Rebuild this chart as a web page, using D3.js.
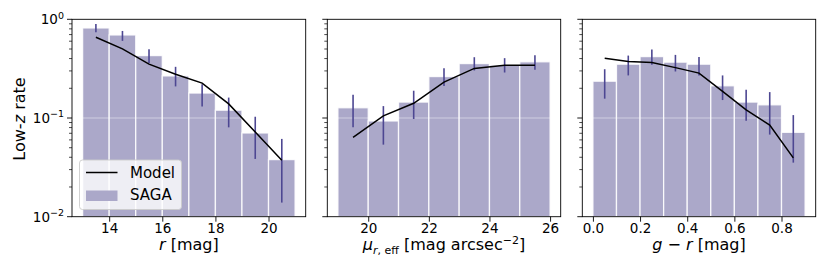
<!DOCTYPE html>
<html><head><meta charset="utf-8">
<script src="https://cdn.jsdelivr.net/npm/d3@7"></script>
<style>
html,body{margin:0;padding:0;background:#fff;}
svg{display:block;font-family:"DejaVu Sans",sans-serif;}
</style></head>
<body>
<svg id="c" width="830" height="277"></svg>
<script>
// ---- data ----
const rEdges = [13,14,15,16,17,18,19,20,21];
const rRate  = [0.817,0.694,0.429,0.267,0.179,0.120,0.0705,0.0379];
const rErrHi = [0.897,0.762,0.498,0.330,0.220,0.161,0.103,0.0614];
const rErrLo = [0.739,0.604,0.360,0.209,0.131,0.0804,0.0385,0.0139];
const rModel = [0.658,0.501,0.351,0.278,0.226,0.139,0.0722,0.0373];

const muEdges = [19,20,21,22,23,24,25,26];
const muRate  = [0.127,0.0933,0.145,0.263,0.356,0.343,0.371];
const muErrHi = [0.172,0.132,0.189,0.320,0.413,0.404,0.433];
const muErrLo = [0.0804,0.0537,0.0977,0.211,0.303,0.289,0.308];
const muModel = [0.0637,0.105,0.141,0.231,0.318,0.343,0.343];

const grEdges = [0,0.1,0.2,0.3,0.4,0.5,0.6,0.7,0.8,0.9];
const grRate  = [0.236,0.351,0.419,0.368,0.351,0.212,0.145,0.136,0.0716];
const grErrHi = [0.312,0.429,0.493,0.436,0.416,0.270,0.193,0.183,0.107];
const grErrLo = [0.157,0.270,0.346,0.296,0.270,0.152,0.094,0.0679,0.0353];
const grModel = [0.404,0.373,0.365,0.324,0.285,0.186,0.121,0.0849,0.0394];

const rTicks  = [14,16,18,20];
const muTicks = [20,22,24,26];
const grTicks = [0.0,0.2,0.4,0.6,0.8];
const yTicks  = [0.01,0.1,1];
const yTickExp = ["−2","−1","0"];
const legendLabels = ["Model","SAGA"];

// ---- layout ----
const svg = d3.select("#c");
const yTop = 19.3, yBottom = 216.7;
const y = d3.scaleLog().domain([0.01,1]).range([yBottom, yTop]);
const barColor = "#aba8c9", errColor = "#4d4792";
const tickFont = 13.5, labelFont = 16;

const panels = [
  {edges:rEdges, rate:rRate, hi:rErrHi, lo:rErrLo, model:rModel, ticks:rTicks, fmt:d=>String(d), x0:72, x1:305.7, label:"r"},
  {edges:muEdges, rate:muRate, hi:muErrHi, lo:muErrLo, model:muModel, ticks:muTicks, fmt:d=>String(d), x0:327.3, x1:560.7, label:"mu"},
  {edges:grEdges, rate:grRate, hi:grErrHi, lo:grErrLo, model:grModel, ticks:grTicks, fmt:d=>d.toFixed(1), x0:582.3, x1:815.7, label:"gr"}
];

panels.forEach((p,pi)=>{
  const lo = p.edges[0], hiE = p.edges[p.edges.length-1];
  const m = (hiE-lo)*0.05;
  const x = d3.scaleLinear().domain([lo-m, hiE+m]).range([p.x0, p.x1]);
  const g = svg.append("g");
  const centers = p.rate.map((_,i)=>(p.edges[i]+p.edges[i+1])/2);

  // bars
  g.selectAll("rect.bar").data(p.rate).join("rect")
    .attr("x",(d,i)=>x(p.edges[i]))
    .attr("width",(d,i)=>x(p.edges[i+1])-x(p.edges[i]))
    .attr("y",d=>y(d))
    .attr("height",d=>yBottom-y(d))
    .attr("fill",barColor)
    .attr("stroke","#fff").attr("stroke-opacity",0.85).attr("stroke-width",1.3);

  // faint grid at 1e-1
  g.append("line").attr("x1",p.x0).attr("x2",p.x1)
    .attr("y1",y(0.1)).attr("y2",y(0.1))
    .attr("stroke","#fff").attr("stroke-opacity",0.45).attr("stroke-width",1);

  // error bars
  g.selectAll("line.err").data(p.rate).join("line")
    .attr("x1",(d,i)=>x(centers[i])).attr("x2",(d,i)=>x(centers[i]))
    .attr("y1",(d,i)=>y(p.hi[i])).attr("y2",(d,i)=>y(p.lo[i]))
    .attr("stroke",errColor).attr("stroke-width",1.6);

  // model line
  g.append("path").datum(p.model)
    .attr("d", d3.line().x((d,i)=>x(centers[i])).y(d=>y(d)))
    .attr("fill","none").attr("stroke","#000").attr("stroke-width",1.5);

  // x axis
  const xa = d3.axisBottom(x).tickValues(p.ticks).tickFormat(p.fmt).tickSize(5).tickPadding(2);
  const gx = svg.append("g").attr("transform",`translate(0,${yBottom})`).call(xa);
  gx.select(".domain").remove();
  gx.selectAll("line").attr("stroke","#000").attr("stroke-width",0.9);
  gx.selectAll("text").attr("font-size",tickFont).attr("fill","#000").attr("font-family","DejaVu Sans");

  // y ticks (major + minor)
  const minor = [];
  [0.01,0.1].forEach(b=>{for(let k=2;k<=9;k++) minor.push(b*k);});
  svg.append("g").selectAll("line").data(minor).join("line")
    .attr("x1",p.x0-3).attr("x2",p.x0).attr("y1",d=>y(d)).attr("y2",d=>y(d))
    .attr("stroke","#000").attr("stroke-width",0.7);
  svg.append("g").selectAll("line").data(yTicks).join("line")
    .attr("x1",p.x0-5).attr("x2",p.x0).attr("y1",d=>y(d)).attr("y2",d=>y(d))
    .attr("stroke","#000").attr("stroke-width",0.9);
  if(pi===0){
    yTicks.forEach((t,i)=>{
      const tx = svg.append("text").attr("x",p.x0-8).attr("y",y(t)+4.8)
        .attr("text-anchor","end").attr("font-size",tickFont).attr("fill","#000");
      tx.append("tspan").text("10");
      tx.append("tspan").attr("dy",-5.5).attr("font-size",9.5).text(yTickExp[i]);
    });
  }

  // frame
  svg.append("rect").attr("x",p.x0).attr("y",yTop).attr("width",p.x1-p.x0).attr("height",yBottom-yTop)
    .attr("fill","none").attr("stroke","#000").attr("stroke-width",0.9);

  // x labels
  const cx = (p.x0+p.x1)/2;
  const lt = svg.append("text").attr("x",cx).attr("y",250).attr("text-anchor","middle")
    .attr("font-size",labelFont).attr("fill","#000");
  if(p.label==="r"){
    lt.append("tspan").attr("font-style","italic").text("r");
    lt.append("tspan").text(" [mag]");
  } else if(p.label==="mu"){
    lt.append("tspan").attr("font-style","italic").text("μ");
    lt.append("tspan").attr("dy",3.5).attr("font-size",11).attr("font-style","italic").text("r");
    lt.append("tspan").attr("font-size",11).text(", eff");
    lt.append("tspan").attr("dy",-3.5).text(" [mag arcsec");
    lt.append("tspan").attr("dy",-6.5).attr("font-size",11).text("−2");
    lt.append("tspan").attr("dy",6.5).text("]");
  } else {
    lt.append("tspan").attr("font-style","italic").text("g");
    lt.append("tspan").text(" − ");
    lt.append("tspan").attr("font-style","italic").text("r");
    lt.append("tspan").text(" [mag]");
  }
});

// y label
const yl = svg.append("text").attr("transform","translate(25,119) rotate(-90)")
  .attr("text-anchor","middle").attr("font-size",labelFont).attr("fill","#000");
yl.append("tspan").text("Low-");
yl.append("tspan").attr("font-style","italic").text("z");
yl.append("tspan").text(" rate");

// legend
const lg = svg.append("g");
lg.append("rect").attr("x",79.5).attr("y",160).attr("width",102).attr("height",49.5)
  .attr("rx",3).attr("fill","#fff").attr("fill-opacity",0.8).attr("stroke","#ccc").attr("stroke-width",0.9);
lg.append("line").attr("x1",86).attr("x2",117.5).attr("y1",172.5).attr("y2",172.5)
  .attr("stroke","#000").attr("stroke-width",1.5);
lg.append("rect").attr("x",86).attr("y",190.5).attr("width",31.5).attr("height",10.5).attr("fill",barColor);
lg.selectAll("text").data(legendLabels).join("text")
  .attr("x",130).attr("y",(d,i)=>178+i*22.3).attr("font-size",15).attr("fill","#000").text(d=>d);
</script>
</body></html>
